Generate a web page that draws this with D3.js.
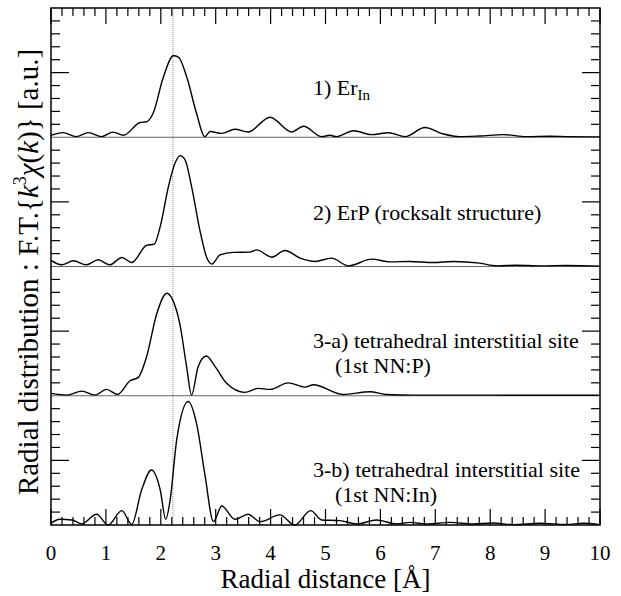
<!DOCTYPE html>
<html>
<head>
<meta charset="utf-8">
<script src="https://cdn.jsdelivr.net/npm/d3@7"></script>
<style>
  body { margin: 0; background: #fff; }
</style>
</head>
<body>
<div id="chart"></div>
<script>
////////////////////////////////////////////////////////////////////////
// Data: [radial distance (Å), F.T. magnitude (tick units 0-10)]

let erIn = [[0,0.15],[0.22,0.36],[0.46,0.05],[0.68,0.36],[0.92,0.05],[1.13,0.4],[1.32,0.15],
  [1.62,1.14],[1.74,1.2],[1.86,1.86],[2.05,4.7],[2.23,6.3],[2.32,6.2],[2.47,4.7],[2.65,1.86],
  [2.8,0.05],[2.9,0.44],[3.11,0.3],[3.35,0.62],[3.59,0.41],[3.99,1.55],[4.38,0.41],[4.6,0.85],
  [4.93,0.05],[5.08,0.15],[5.2,0.05],[5.51,0.5],[5.84,0.2],[6.14,0.35],[6.45,0.05],[6.81,0.75],
  [7.15,0.25],[7.45,0.05],[7.81,0.1],[8.24,0.2],[8.66,0.05],[9.09,0.08],[9.39,0.05],[10,0.03]];

let erP = [[0,0.47],[0.19,0.13],[0.41,0.44],[0.64,0.13],[0.86,0.52],[1.07,0.13],[1.29,0.7],
  [1.47,0.31],[1.74,1.63],[1.88,1.73],[1.99,3.1],[2.14,6.2],[2.26,8.0],[2.35,8.58],[2.44,8.27],
  [2.56,6.2],[2.71,2.84],[2.84,0.65],[2.93,0.18],[3.08,0.9],[3.32,1.09],[3.62,1.11],[3.75,1.29],
  [4.02,0.72],[4.26,1.24],[4.54,0.65],[4.81,0.39],[5.11,0.65],[5.42,0.05],[5.84,0.57],[6.17,0.36],
  [6.54,0.39],[6.96,0.31],[7.33,0.39],[7.81,0.26],[8.12,0.05],[8.48,0.1],[8.91,0.05],[9.39,0.08],
  [10,0.03]];

let tetraP = [[0,0.18],[0.29,0.05],[0.56,0.36],[0.8,0.05],[1.01,0.49],[1.21,0.1],[1.44,1.16],
  [1.59,1.42],[1.74,3.0],[1.93,6.4],[2.11,7.93],[2.2,7.55],[2.35,5.48],[2.47,2.25],[2.56,0.05],
  [2.68,2.25],[2.83,3.07],[2.99,2.25],[3.2,0.96],[3.53,0.26],[3.78,0.57],[3.99,0.49],[4.32,1.0],
  [4.63,0.67],[4.78,0.85],[5.32,0.1],[5.81,0.31],[6.11,0.1],[6.6,0.05],[7.5,0.05],[8.5,0.04],
  [10,0.04]];

let tetraIn = [[0,0.13],[0.16,0.44],[0.38,0.39],[0.56,0.08],[0.83,0.83],[1.04,0.0],[1.29,1.11],
  [1.47,0.05],[1.65,2.7],[1.83,4.26],[1.99,2.71],[2.09,0.44],[2.17,1.94],[2.29,6.6],[2.5,9.56],
  [2.65,7.88],[2.8,4.0],[2.96,0.26],[3.11,1.47],[3.35,0.44],[3.59,0.83],[3.81,0.26],[4.17,0.78],
  [4.44,0.0],[4.73,1.11],[4.93,0.39],[5.26,0.34],[5.57,0.08],[5.93,0.39],[6.3,0.08],[6.54,0.2],
  [6.84,0.08],[7.27,0.2],[7.69,0.08],[8.06,0.15],[8.42,0.03],[8.91,0.13],[9.39,0.05],[9.7,0.13],
  [10,0.03]];

let panelSeries = [erIn, erP, tetraP, tetraIn];
let xTicks = [0, 1, 2, 3, 4, 5, 6, 7, 8, 9, 10];
let yTicks = [1, 2, 3, 4, 5, 6, 7, 8, 9];
let refLine = 2.22; // dotted vertical marker

////////////////////////////////////////////////////////////////////////
// Sizing

let width = 621;
let height = 596;
let plot = { left: 51, right: 600, top: 8, bottom: 525 };
let panelH = (plot.bottom - plot.top) / 4;
let serif = "'Liberation Serif', 'Times New Roman', Times, serif";

let svg = d3.select("#chart").append("svg")
  .attr("width", width).attr("height", height)
  .attr("font-family", serif);

let xScale = d3.scaleLinear().domain([0, 10]).range([plot.left, plot.right]);

let minorX = d3.range(0, 50.5, 1).map(d => d / 5);

// one y scale per panel, zero line at panel bottom
let yScales = panelSeries.map((s, i) => d3.scaleLinear()
  .domain([0, 10])
  .range([plot.top + panelH * (i + 1), plot.top + panelH * i]));

// vertical reference line
svg.append("line")
  .attr("x1", xScale(refLine)).attr("x2", xScale(refLine))
  .attr("y1", plot.top).attr("y2", plot.bottom)
  .attr("stroke", "#888").attr("stroke-width", 1)
  .attr("stroke-dasharray", "1,1");

// panel separators / zero lines
[0, 1, 2].forEach(i => {
  svg.append("line")
    .attr("x1", plot.left).attr("x2", plot.right)
    .attr("y1", yScales[i](0)).attr("y2", yScales[i](0))
    .attr("stroke", "#666").attr("stroke-width", 1.2);
});

// curves
panelSeries.forEach((s, i) => {
  let y = yScales[i];
  let line = d3.line()
    .x(d => xScale(d[0]))
    .y(d => y(d[1]))
    .curve(d3.curveMonotoneX);
  svg.append("path")
    .datum(s)
    .attr("d", line)
    .attr("fill", "none")
    .attr("stroke", "#000")
    .attr("stroke-width", 1.4);
});

// x ticks pointing inward from top and bottom edges
let tickG = svg.append("g").attr("stroke", "#000").attr("stroke-width", 1.2);

function xTickLen(d) { return Number.isInteger(d) ? 16 : 8; }

tickG.selectAll(".xt-top")
  .data(minorX).enter().append("line")
  .attr("x1", d => xScale(d)).attr("x2", d => xScale(d))
  .attr("y1", plot.top).attr("y2", d => plot.top + xTickLen(d));

tickG.selectAll(".xt-bot")
  .data(minorX).enter().append("line")
  .attr("x1", d => xScale(d)).attr("x2", d => xScale(d))
  .attr("y1", plot.bottom).attr("y2", d => plot.bottom - xTickLen(d));

// y ticks for each panel, both sides, major at 5
function yTickLen(d) { return d === 5 ? 18 : 9; }

yScales.forEach(y => {
  tickG.append("g").selectAll("line")
    .data(yTicks).enter().append("line")
    .attr("x1", plot.left).attr("x2", d => plot.left + yTickLen(d))
    .attr("y1", d => y(d)).attr("y2", d => y(d));
  tickG.append("g").selectAll("line")
    .data(yTicks).enter().append("line")
    .attr("x1", plot.right).attr("x2", d => plot.right - yTickLen(d))
    .attr("y1", d => y(d)).attr("y2", d => y(d));
});

// frame
svg.append("rect")
  .attr("x", plot.left).attr("y", plot.top)
  .attr("width", plot.right - plot.left).attr("height", plot.bottom - plot.top)
  .attr("fill", "none").attr("stroke", "#000").attr("stroke-width", 1.5);

// x tick labels
svg.append("g").selectAll("text")
  .data(xTicks).enter().append("text")
  .attr("x", d => xScale(d))
  .attr("y", 560)
  .attr("text-anchor", "middle")
  .attr("font-size", 21)
  .text(d => d);

// axis titles
svg.append("text")
  .attr("x", (plot.left + plot.right) / 2)
  .attr("y", 588)
  .attr("text-anchor", "middle")
  .attr("font-size", 27)
  .text("Radial distance [Å]");

let yTitle = svg.append("text")
  .attr("transform", "translate(38,272) rotate(-90)")
  .attr("text-anchor", "middle")
  .attr("font-size", 29);
yTitle.append("tspan").text("Radial distribution : F.T.{");
yTitle.append("tspan").attr("font-style", "italic").text("k");
yTitle.append("tspan").attr("font-size", 18).attr("dy", -12).text("3");
yTitle.append("tspan").attr("font-style", "italic").attr("dy", 12).text("χ");
yTitle.append("tspan").text("(");
yTitle.append("tspan").attr("font-style", "italic").text("k");
yTitle.append("tspan").text(")} [a.u.]");

// panel labels
let labelX = 313;
let l1 = svg.append("text").attr("x", labelX).attr("y", 95).attr("font-size", 22);
l1.append("tspan").text("1) Er");
l1.append("tspan").attr("font-size", 15).attr("dy", 5).text("In");

svg.append("text").attr("x", labelX).attr("y", 220).attr("font-size", 22)
  .text("2) ErP (rocksalt structure)");

svg.append("text").attr("x", labelX).attr("y", 348).attr("font-size", 22)
  .text("3-a) tetrahedral interstitial site");
svg.append("text").attr("x", labelX + 22).attr("y", 373).attr("font-size", 22)
  .text("(1st NN:P)");

svg.append("text").attr("x", labelX).attr("y", 477).attr("font-size", 22)
  .text("3-b) tetrahedral interstitial site");
svg.append("text").attr("x", labelX + 22).attr("y", 502).attr("font-size", 22)
  .text("(1st NN:In)");
</script>
</body>
</html>
